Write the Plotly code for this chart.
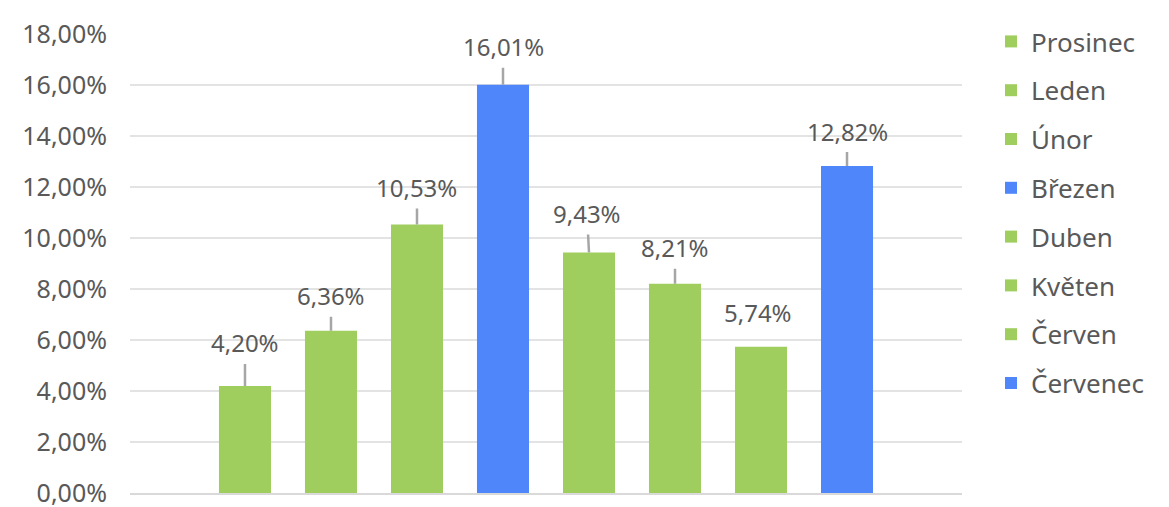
import plotly.graph_objects as go

months = ["Prosinec", "Leden", "Únor", "Březen", "Duben", "Květen", "Červen", "Červenec"]
values = [4.20, 6.36, 10.53, 16.01, 9.43, 8.21, 5.74, 12.82]  # percent
highlight = [False, False, False, True, False, False, False, True]

# label placement (pixel offsets of label centre from bar top) - styling only
label_dx = [0, 0, 0, 0, -2, 0, -3, 0]
label_dy = [-43, -35, -37, -38, -39, -36, -34, -35]
label_line = [True, True, True, True, True, True, False, True]

GREEN = "#9FCE5F"
BLUE = "#4F87FB"
TXT = "#595959"
FONT = "Noto Sans"

# page has an 8px body margin; figure is sized/offset to compensate
W, H = 1161, 499

fig = go.Figure()
for m, v, h in zip(months, values, highlight):
    fig.add_trace(go.Bar(
        x=[m], y=[v / 100], name=m,
        marker=dict(color=BLUE if h else GREEN, line=dict(width=0)),
        width=0.605, legendgroup=m,
        hoverinfo="skip",
    ))

anns = []
for m, v, dx, dy, ln in zip(months, values, label_dx, label_dy, label_line):
    txt = f"{v:.2f}%".replace(".", ",")
    if ln:
        anns.append(dict(x=m, y=v / 100, text=txt, showarrow=True, arrowhead=0,
                         arrowwidth=2.5, arrowcolor="#A6A6A6", ax=dx, ay=dy,
                         standoff=0, startstandoff=3,
                         font=dict(family=FONT, size=24, color=TXT)))
    else:
        anns.append(dict(x=m, y=v / 100, text=txt, showarrow=False,
                         xshift=dx, yshift=-dy, yanchor="middle",
                         font=dict(family=FONT, size=24, color=TXT)))

fig.update_layout(
    width=W, height=H,
    margin=dict(l=122, r=W - 954, t=26, b=H - 485, autoexpand=False),
    paper_bgcolor="white", plot_bgcolor="white",
    separators=", ",
    barmode="overlay",
    font=dict(family=FONT, size=24, color=TXT),
    showlegend=True,
    legend=dict(xref="container", x=983 / W, xanchor="left",
                yref="container", y=1 - 10 / H, yanchor="top",
                font=dict(family=FONT, size=26, color=TXT),
                tracegroupgap=12, itemclick=False, maxheight=600,
                bgcolor="rgba(0,0,0,0)"),
    annotations=anns,
    xaxis=dict(type="category", categoryorder="array", categoryarray=months,
               range=[-1.337, 8.337], showticklabels=False, showgrid=False,
               zeroline=False, showline=True, linecolor="#D9D9D9", linewidth=2,
               ticks=""),
    yaxis=dict(range=[0, 0.18], dtick=0.02, tickformat=".2%",
               showgrid=True, gridcolor="#E3E3E3", gridwidth=2,
               zeroline=False, showline=False, ticks="",
               ticklabelstandoff=22, ticklabeloverflow="allow",
               tickfont=dict(family=FONT, size=25, color=TXT)),
)

fig.write_html("out.html")
